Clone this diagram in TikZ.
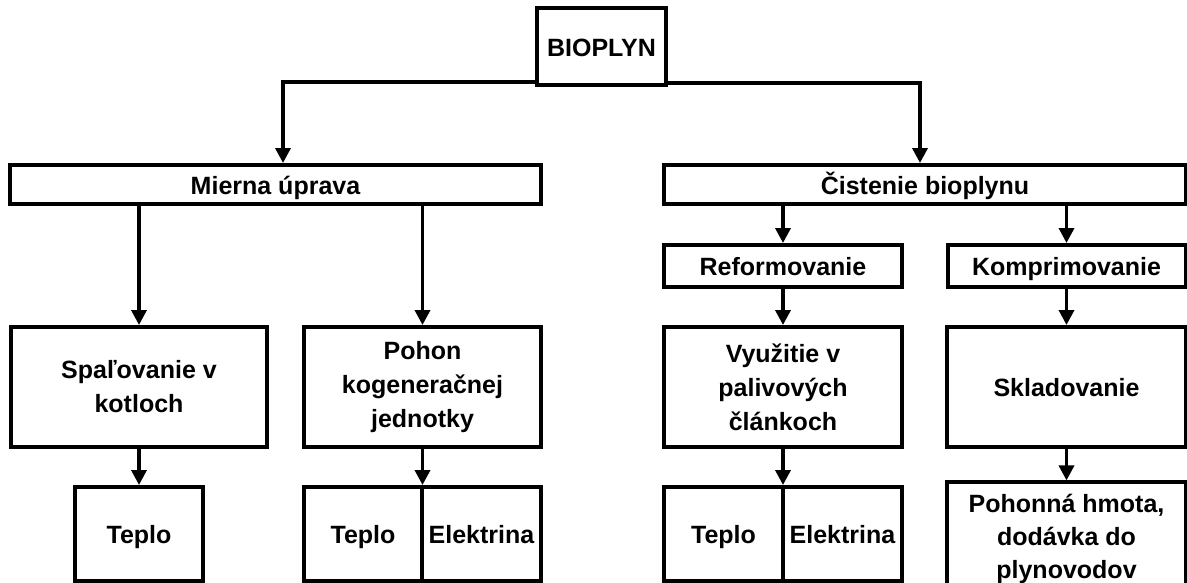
\documentclass[tikz,border=0pt]{standalone}
\usepackage{fontspec}
\setmainfont{Liberation Sans}
\usetikzlibrary{arrows.meta}

\begin{document}
\begin{tikzpicture}[
        x=1pt, y=-1pt,
        box/.style={rectangle, draw=black, line width=4pt, align=center, inner sep=2pt, font=\fontsize{25}{34}\selectfont\bfseries},
        oneline/.style={text height=19pt, text depth=0pt},
        bar/.style={box, oneline, minimum height=39pt},
        stagebox/.style={box, oneline, minimum width=238pt, minimum height=42pt},
        usebox/.style={box, minimum height=120pt},
        outbox/.style={box, minimum height=94pt},
        arrow/.style={-{Triangle[length=15pt, width=15pt]}, line width=3.5pt}
    ]
        \useasboundingbox (0,0) rectangle (1187,582);

        \node[box, oneline, minimum width=129pt, minimum height=77pt] (bio) at (601.5,46.5) {BIOPLYN};

        \node[bar, minimum width=531pt] (mierna) at (275.5,184.5) {Mierna úprava};
        \node[bar, minimum width=522pt] (cist) at (925,184.5) {Čistenie bioplynu};

        \node[stagebox] (reform) at (783,266) {Reformovanie};
        \node[stagebox] (kompr) at (1066.5,266) {Komprimovanie};

        \node[usebox, minimum width=256pt] (spal) at (139,387) {Spaľovanie v\\kotloch};
        \node[usebox, minimum width=237pt] (pohon) at (422.5,387) {Pohon\\kogeneračnej\\jednotky};
        \node[usebox, minimum width=238pt] (vyuz) at (783,387) {Využitie v\\palivových\\článkoch};
        \node[usebox, oneline, minimum width=239pt] (sklad) at (1066.5,387) {Skladovanie};

        \node[outbox, oneline, minimum width=128pt] (teploA) at (139,534) {Teplo};
        \node[outbox, oneline, minimum width=118pt] (teploB) at (363,534) {Teplo};
        \node[outbox, oneline, minimum width=119pt] (elekB) at (481.5,534) {Elektrina};
        \node[outbox, oneline, minimum width=119pt] (teploC) at (723.5,534) {Teplo};
        \node[outbox, oneline, minimum width=119pt] (elekC) at (842.5,534) {Elektrina};
        \node[outbox, minimum width=239pt, font=\fontsize{25}{33}\selectfont\bfseries] (hmota) at (1066.5,534) {\rule{0pt}{28pt}Pohonná hmota,\\dodávka do\\plynovodov};

        \draw[arrow] ([yshift=5pt]bio.south west) -| ([xshift=7.5pt]mierna.north);
        \draw[arrow] ([yshift=4pt]bio.south east) -| ([xshift=-5pt]cist.north);

        \draw[arrow] (mierna.south -| spal.north) -- (spal.north);
        \draw[arrow] (mierna.south -| pohon.north) -- (pohon.north);
        \draw[arrow] (cist.south -| reform.north) -- (reform.north);
        \draw[arrow] (cist.south -| kompr.north) -- (kompr.north);

        \draw[arrow] (reform) -- (vyuz);
        \draw[arrow] (kompr) -- (sklad);

        \draw[arrow] (spal) -- (teploA);
        \draw[arrow] (pohon.south) -- (pohon.south |- teploB.north);
        \draw[arrow] (vyuz.south) -- (vyuz.south |- teploC.north);
        \draw[arrow] (sklad) -- (hmota);
    \end{tikzpicture}
\end{document}
